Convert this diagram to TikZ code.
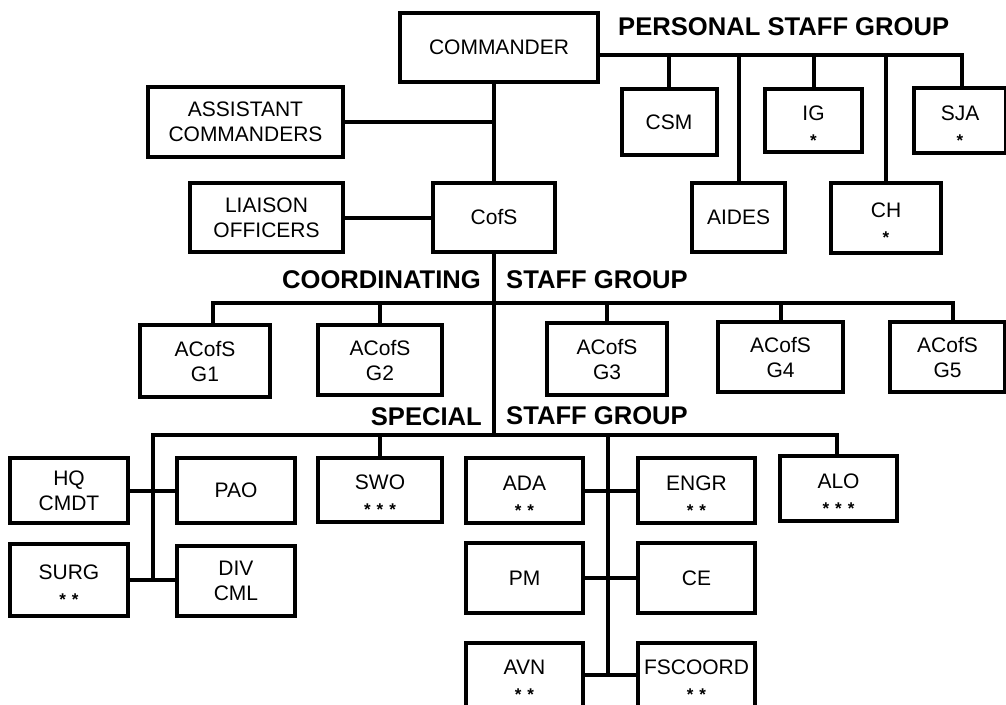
\documentclass[tikz,border=0pt]{standalone}
\usepackage{fontspec}
\setmainfont{Liberation Sans}
\newcommand\stl[1]{\\[-10pt]\raisebox{-11pt}[0pt][0pt]{\fontsize{17}{17}\selectfont\bfseries #1}}
\newcommand\sgap{\kern6pt}
\begin{document}
\begin{tikzpicture}[x=1pt,y=-1pt,
  bx/.style={draw, line width=4pt, inner sep=0pt, align=center,
    font=\fontsize{21}{25}\selectfont},
  wh/.style 2 args={minimum width=#1pt, minimum height=#2pt},
  ln/.style={line width=4pt},
  hd/.style={inner sep=0pt, font=\fontsize{25.6}{30}\selectfont\bfseries}]
\useasboundingbox (0,0) rectangle (1006,704);
\clip (0,0) rectangle (1006,704);
% top
\node[bx, wh={198}{69}] (cmd) at (499,47.5) {COMMANDER};
\node[bx, wh={195}{70}] (asst) at (245.5,122) {ASSISTANT\\COMMANDERS};
\node[bx, wh={153}{69}] (lia) at (266.5,217.5) {LIAISON\\OFFICERS};
\node[bx, wh={122}{69}] (cofs) at (494,217.5) {CofS};
\node[bx, wh={95}{66}] (csm) at (669,122) {CSM};
\node[bx, wh={97}{63}] (ig) at (813.5,120.5) {IG\stl{*}};
\node[bx, wh={92}{65}] (sja) at (960,120.5) {SJA\stl{*}};
\node[bx, wh={93}{69}] (aides) at (738.5,217.5) {AIDES};
\node[bx, wh={110}{70}] (ch) at (886,218) {CH\stl{*}};
% coordinating
\node[bx, wh={130}{72}] (g1) at (205,361) {ACofS\\G1};
\node[bx, wh={124}{70}] (g2) at (380,360) {ACofS\\G2};
\node[bx, wh={120}{72}] (g3) at (607,359) {ACofS\\G3};
\node[bx, wh={125}{70}] (g4) at (780.5,357) {ACofS\\G4};
\node[bx, wh={115}{70}] (g5) at (947.5,357) {ACofS\\G5};
% special
\node[bx, wh={118}{65}] (hq) at (69,490.5) {HQ\\CMDT};
\node[bx, wh={118}{65}] (pao) at (236,490.5) {PAO};
\node[bx, wh={124}{64}] (swo) at (380,490) {SWO\stl{*\sgap*\sgap*}};
\node[bx, wh={118}{72}] (surg) at (69,579.5) {SURG\stl{*\sgap*}};
\node[bx, wh={118}{70}] (div) at (236,580.5) {DIV\\CML};
\node[bx, wh={117}{65}] (ada) at (524.5,490.5) {ADA\stl{*\sgap*}};
\node[bx, wh={117}{65}] (engr) at (696.5,490.5) {ENGR\stl{*\sgap*}};
\node[bx, wh={117}{65}] (alo) at (838.5,488.5) {ALO\stl{*\sgap*\sgap*}};
\node[bx, wh={117}{70}] (pm) at (524.5,578) {PM};
\node[bx, wh={117}{70}] (ce) at (696.5,578) {CE};
\node[bx, wh={117}{64}] (avn) at (524.5,675) {AVN\stl{*\sgap*}};
\node[bx, wh={117}{64}] (fsc) at (696.5,675) {FSCOORD\stl{*\sgap*}};
% headings
\node[hd, anchor=base west] (psg) at (618,35) {PERSONAL STAFF GROUP};
\node[hd, anchor=base east] (coordt) at (481,288) {COORDINATING};
\node[hd, anchor=base west] (csg) at (506,288) {STAFF GROUP};
\node[hd, anchor=base east] (spect) at (482,425) {SPECIAL};
\node[hd, anchor=base west] (ssg) at (506,424) {STAFF GROUP};
% coordinates
\coordinate (pend) at (962,55);
\coordinate (cl) at (213,303);
\coordinate (cr) at (953,303);
\coordinate (sl) at (153,435);
\coordinate (sr) at (837,435);
\coordinate (mv) at (608,435);
% personal staff connectors
\draw[ln] (cmd.east |- pend) -- (pend) -- (pend |- sja.north);
\draw[ln] (csm.north) -- (csm.north |- pend);
\draw[ln] (aides.north) -- (aides.north |- pend);
\draw[ln] (ig.north) -- (ig.north |- pend);
\draw[ln] (ch.north) -- (ch.north |- pend);
% trunk
\draw[ln] (cofs.north) -- (cofs.north |- cmd.south);
\draw[ln] (asst.east) -- (asst.east -| cofs.north);
\draw[ln] (lia.east) -- (cofs.west);
\draw[ln] (cofs.south) -- (cofs.south |- sl);
% coordinating connectors
\draw[ln] (cl |- g1.north) -- (cl) -- (cr) -- (cr |- g5.north);
\draw[ln] (g2.north) -- (g2.north |- cl);
\draw[ln] (g3.north) -- (g3.north |- cl);
\draw[ln] (g4.north) -- (g4.north |- cl);
% special connectors
\draw[ln] (sl |- surg.east) -- (sl) -- (sr) -- (sr |- alo.north);
\draw[ln] (swo.north) -- (swo.north |- sl);
\draw[ln] (hq.east) -- (pao.west);
\draw[ln] (surg.east) -- (surg.east -| div.west);
\draw[ln] (mv) -- (mv |- avn.east);
\draw[ln] (ada.east) -- (engr.west);
\draw[ln] (pm.east) -- (ce.west);
\draw[ln] (avn.east) -- (fsc.west);
\end{tikzpicture}
\end{document}
